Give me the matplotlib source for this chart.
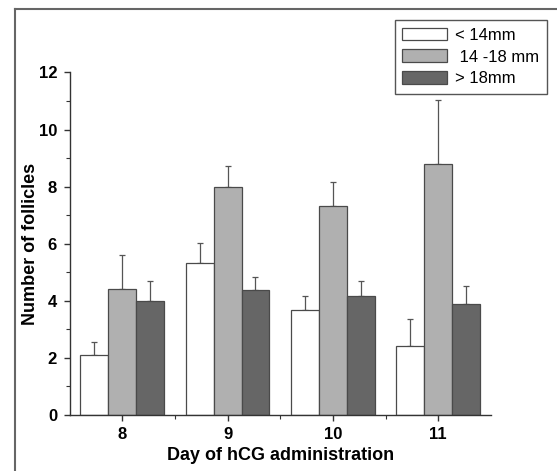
import numpy as np
import matplotlib
matplotlib.use('Agg')
import matplotlib.pyplot as plt
from matplotlib.lines import Line2D
from matplotlib.ticker import MultipleLocator, FixedLocator

plt.rcParams['font.family'] = ['Liberation Sans', 'DejaVu Sans']

days = ['8', '9', '10', '11']
series = ['< 14mm', ' 14 -18 mm', '> 18mm']
small = [2.1, 5.32, 3.69, 2.41]
small_err = [0.46, 0.69, 0.49, 0.95]
mid = [4.41, 8.0, 7.33, 8.78]
mid_err = [1.18, 0.73, 0.82, 2.24]
large = [3.98, 4.37, 4.17, 3.90]
large_err = [0.70, 0.45, 0.53, 0.61]

colors = ['#ffffff', '#b0b0b0', '#666666']

fig = plt.figure(figsize=(5.57, 4.71), dpi=100)
ax = fig.add_axes([0.1248, 0.1189, 0.7567, 0.7272])

x = np.arange(1, len(days) + 1)
w = 0.265
for i, (vals, errs) in enumerate([(small, small_err), (mid, mid_err), (large, large_err)]):
    pos = x + (i - 1) * w
    ax.bar(pos, vals, w, color=colors[i], edgecolor='#4a4a4a', linewidth=0.9,
           label=series[i], zorder=2)
    ax.errorbar(pos, vals, yerr=[np.zeros(len(vals)), errs], fmt='none',
                ecolor='#555555', elinewidth=0.9, capsize=2.5, capthick=0.9, zorder=1)

ax.set_xlim(0.5, 4.5)
ax.set_ylim(0, 12)
ax.set_xticks(x)
ax.set_xticklabels(days)
ax.xaxis.set_minor_locator(FixedLocator([1.5, 2.5, 3.5]))
ax.yaxis.set_major_locator(MultipleLocator(2))
ax.yaxis.set_minor_locator(MultipleLocator(1))
for s in ['top', 'right']:
    ax.spines[s].set_visible(False)
for s in ['left', 'bottom']:
    ax.spines[s].set_color('#333333')
    ax.spines[s].set_linewidth(1.0)
ax.tick_params(which='major', direction='out', length=4.5, width=1, colors='#333333',
               labelsize=12, labelcolor='black', pad=4.5)
ax.tick_params(which='minor', direction='out', length=3, width=0.8, colors='#333333')
for lab in ax.get_xticklabels() + ax.get_yticklabels():
    lab.set_fontweight('bold')

ax.set_xlabel('Day of hCG administration', fontsize=13, fontweight='bold', labelpad=3.5)
ax.set_ylabel('Number of follicles', fontsize=13, fontweight='bold', labelpad=0)

leg = fig.legend(loc='upper left', bbox_to_anchor=(0.709, 0.9575), fontsize=12,
                 handlelength=2.65, handleheight=0.8, handletextpad=0.5,
                 labelspacing=0.4, borderpad=0.45, borderaxespad=0,
                 fancybox=False, framealpha=1, edgecolor='#555555')
leg.get_frame().set_linewidth(1.0)

# outer frame of the figure panel
fig.add_artist(Line2D([0.0264, 0.0264], [0, 0.980], color='#666666', lw=1.5,
                      transform=fig.transFigure))
fig.add_artist(Line2D([0.0264, 1], [0.980, 0.980], color='#666666', lw=1.5,
                      transform=fig.transFigure))

fig.savefig('out.png', dpi=100)
